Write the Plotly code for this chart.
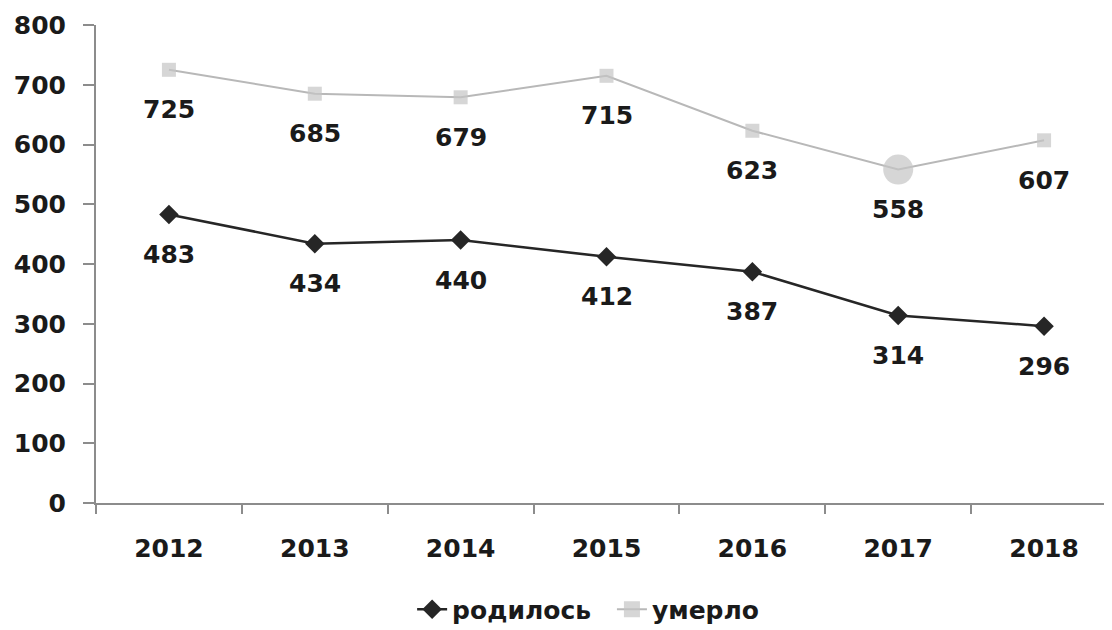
import plotly.graph_objects as go

years = ["2012", "2013", "2014", "2015", "2016", "2017", "2018"]
born = [483, 434, 440, 412, 387, 314, 296]
died = [725, 685, 679, 715, 623, 558, 607]
y_ticks = [0, 100, 200, 300, 400, 500, 600, 700, 800]

FONT = "DejaVu Sans"
AX = "#8c8c8c"
TXT = "#1a1a1a"

died_symbols = ["square"] * len(years)
died_sizes = [14] * len(years)
died_symbols[5] = "circle"
died_sizes[5] = 30

fig = go.Figure()
fig.add_trace(go.Scatter(
    x=years, y=born, name="<b>родилось</b>  ", mode="lines+markers",
    line=dict(color="#262626", width=2.5),
    marker=dict(symbol="diamond", size=15, color="#262626"),
))
fig.add_trace(go.Scatter(
    x=years, y=died, name="<b>умерло</b>", mode="lines+markers",
    line=dict(color="#b8b8b8", width=2),
    marker=dict(symbol=died_symbols, size=died_sizes, color="#c4c4c4",
                line=dict(width=0)),
))

for series in (born, died):
    for i, v in enumerate(series):
        fig.add_annotation(x=i, y=v, xref="x", yref="y", text=f"<b>{v}</b>",
                           showarrow=False, yshift=-40, yanchor="middle",
                           font=dict(family=FONT, size=25, color=TXT))

fig.update_layout(
    width=1112, height=630,
    margin=dict(l=88, r=3, t=17, b=135),
    paper_bgcolor="white", plot_bgcolor="white",
    font=dict(family=FONT, size=25, color=TXT),
    showlegend=True,
    legend=dict(orientation="h", x=0.482, xanchor="center", y=-0.223, yanchor="middle",
                font=dict(family=FONT, size=25, color=TXT)),
    xaxis=dict(type="category", range=[-0.5, 6.5], showgrid=False,
               showline=True, linecolor=AX, linewidth=2,
               ticks="outside", tickson="boundaries", ticklen=9, tickcolor=AX, tickwidth=2,
               tickfont=dict(family=FONT, size=25, color=TXT),
               ticktext=[f"<b>{y}</b>" for y in years], tickvals=years,
               ticklabelstandoff=22),
    yaxis=dict(range=[0, 800], tickvals=y_ticks, ticktext=[f"<b>{t}</b>" for t in y_ticks],
               showgrid=False, zeroline=False,
               showline=True, linecolor=AX, linewidth=2,
               ticks="outside", ticklen=11, tickcolor=AX, tickwidth=2,
               tickfont=dict(family=FONT, size=25, color=TXT),
               ticklabelstandoff=12),
)

fig.write_html("out.html")
